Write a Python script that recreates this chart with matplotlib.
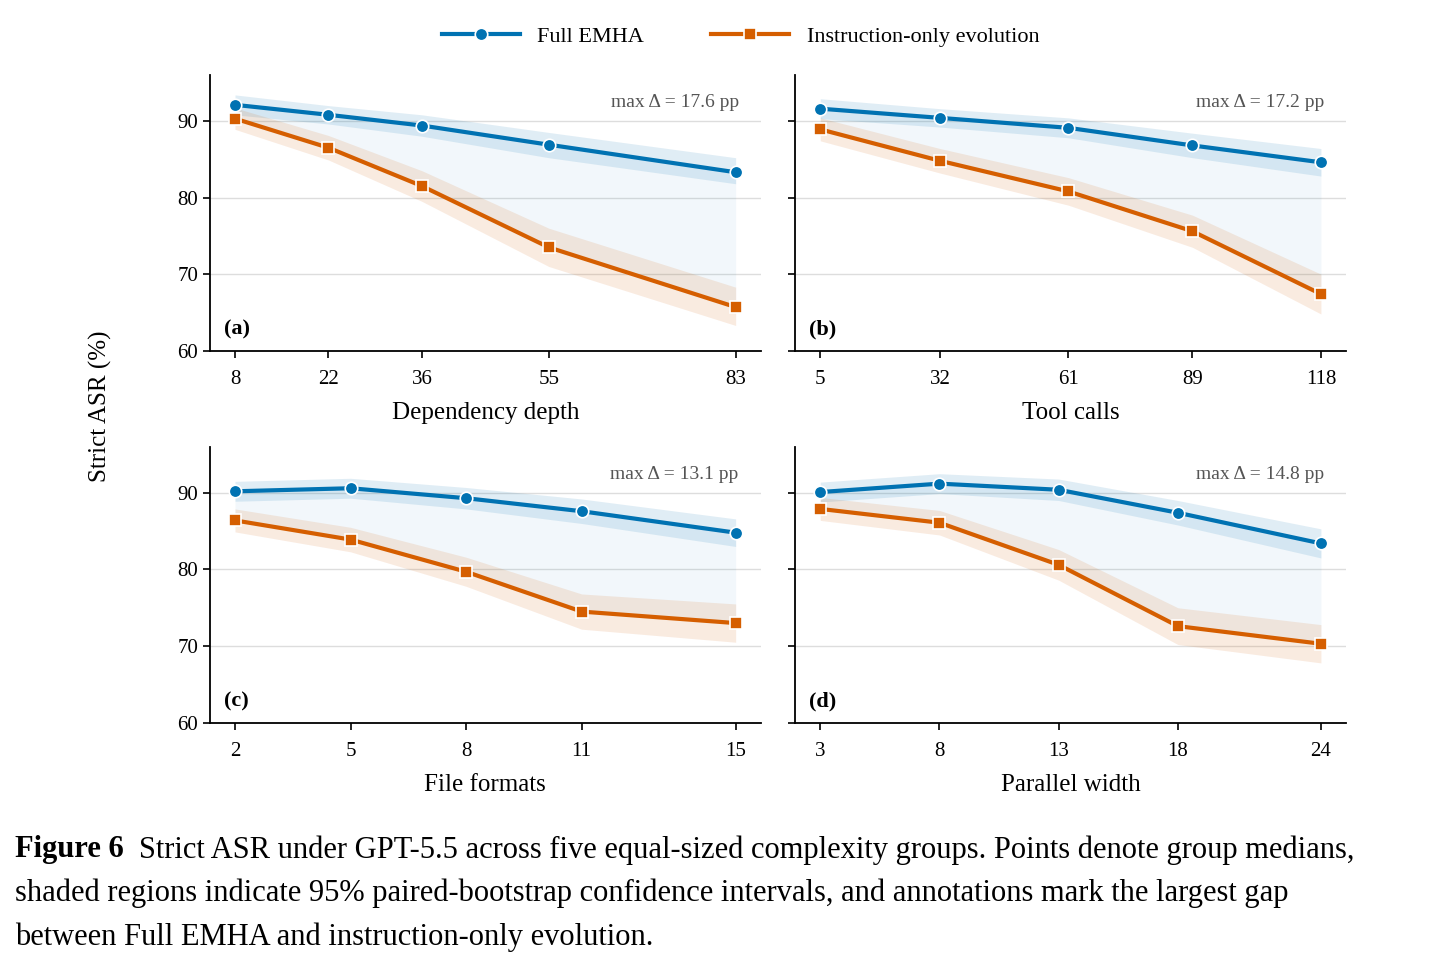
import numpy as np
import matplotlib.pyplot as plt

plt.rcParams['font.family'] = ['Liberation Serif', 'DejaVu Serif']

BLUE = '#0072b2'
ORANGE = '#d55e00'

xlabels = ['Dependency depth', 'Tool calls', 'File formats', 'Parallel width']
xvals = [[8, 22, 36, 55, 83],
         [5, 32, 61, 89, 118],
         [2, 5, 8, 11, 15],
         [3, 8, 13, 18, 24]]
full = [[92.1, 90.8, 89.4, 86.9, 83.3],
        [91.6, 90.4, 89.1, 86.8, 84.6],
        [90.2, 90.6, 89.3, 87.6, 84.8],
        [90.1, 91.2, 90.4, 87.4, 83.4]]
full_lo = [[90.8, 89.6, 88.0, 85.2, 81.8],
           [90.3, 89.2, 87.8, 85.2, 82.8],
           [88.9, 89.3, 87.9, 86.0, 83.0],
           [88.8, 89.9, 89.0, 85.8, 81.5]]
full_hi = [[93.4, 92.0, 90.8, 88.5, 85.2],
           [92.9, 91.6, 90.4, 88.4, 86.4],
           [91.5, 91.9, 90.7, 89.2, 86.6],
           [91.4, 92.5, 91.8, 89.0, 85.3]]
instr = [[90.3, 86.5, 81.5, 73.5, 65.7],
         [88.9, 84.8, 80.8, 75.6, 67.4],
         [86.4, 83.9, 79.7, 74.5, 73.0],
         [87.9, 86.1, 80.6, 72.6, 70.3]]
instr_lo = [[88.9, 84.9, 79.5, 71.0, 63.3],
            [87.4, 83.2, 79.0, 73.5, 64.8],
            [84.9, 82.3, 77.8, 72.2, 70.5],
            [86.4, 84.5, 78.6, 70.2, 67.8]]
instr_hi = [[91.7, 88.1, 83.5, 76.0, 68.3],
            [90.4, 86.4, 82.6, 77.7, 70.0],
            [87.9, 85.5, 81.6, 76.8, 75.5],
            [89.4, 87.7, 82.6, 75.0, 72.8]]
max_delta = ['17.6', '17.2', '13.1', '14.8']
panel = ['(a)', '(b)', '(c)', '(d)']

fig = plt.figure(figsize=(14.38, 9.61), dpi=100)
boxes = [(0.146, 0.635), (0.553, 0.635), (0.146, 0.248), (0.553, 0.248)]
W, H = 0.383, 0.287

for i, (l, b) in enumerate(boxes):
    ax = fig.add_axes([l, b, W, H])
    x = np.array(xvals[i])
    ax.fill_between(x, instr[i], full[i], color=BLUE, alpha=0.05, lw=0)
    ax.fill_between(x, full_lo[i], full_hi[i], color=BLUE, alpha=0.12, lw=0)
    ax.fill_between(x, instr_lo[i], instr_hi[i], color=ORANGE, alpha=0.12, lw=0)
    ax.plot(x, full[i], '-o', color=BLUE, lw=3, ms=9, mec='white', mew=1.2,
            label='Full EMHA', zorder=3)
    ax.plot(x, instr[i], '-s', color=ORANGE, lw=3, ms=9, mec='white', mew=1.2,
            label='Instruction-only evolution', zorder=3)
    pad = (x[-1] - x[0]) * 0.05
    ax.set_xlim(x[0] - pad, x[-1] + pad)
    ax.set_ylim(60, 96)
    ax.set_yticks([60, 70, 80, 90])
    ax.set_xticks(x)
    ax.tick_params(labelsize=15, length=5, width=1.2)
    ax.tick_params(axis='x', pad=9)
    if i % 2 == 1:
        ax.set_yticklabels([])
    ax.grid(axis='y', color='#dddddd', lw=1)
    ax.set_axisbelow(True)
    for s in ['top', 'right']:
        ax.spines[s].set_visible(False)
    for s in ['left', 'bottom']:
        ax.spines[s].set_linewidth(1.3)
    ax.set_xlabel(xlabels[i], fontsize=18, labelpad=9)
    ax.text(0.96, 0.93, 'max Δ = ' + max_delta[i] + ' pp', transform=ax.transAxes,
            ha='right', va='top', fontsize=14, color='#555555')
    ax.text(0.025, 0.04, panel[i], transform=ax.transAxes, ha='left', va='bottom',
            fontsize=16, fontweight='bold')
    if i == 0:
        handles, labs = ax.get_legend_handles_labels()

fig.legend(handles, labs, loc='center', bbox_to_anchor=(0.515, 0.962), ncol=2,
           frameon=False, fontsize=16, handlelength=3.5, columnspacing=3)
fig.text(0.07, 0.577, 'Strict ASR (%)', rotation=90, ha='center', va='center', fontsize=18)

fig.text(15 / 1438, 1 - 850 / 961, 'Figure 6', fontsize=22, fontweight='bold', va='center')
fig.text(139 / 1438, 1 - 850 / 961,
         'Strict ASR under GPT-5.5 across five equal-sized complexity groups. Points denote group medians,',
         fontsize=22, va='center')
fig.text(15 / 1438, 1 - 893 / 961,
         'shaded regions indicate 95% paired-bootstrap confidence intervals, and annotations mark the largest gap',
         fontsize=22, va='center')
fig.text(15 / 1438, 1 - 937 / 961,
         'between Full EMHA and instruction-only evolution.', fontsize=22, va='center')

fig.savefig('out.png', dpi=100)
